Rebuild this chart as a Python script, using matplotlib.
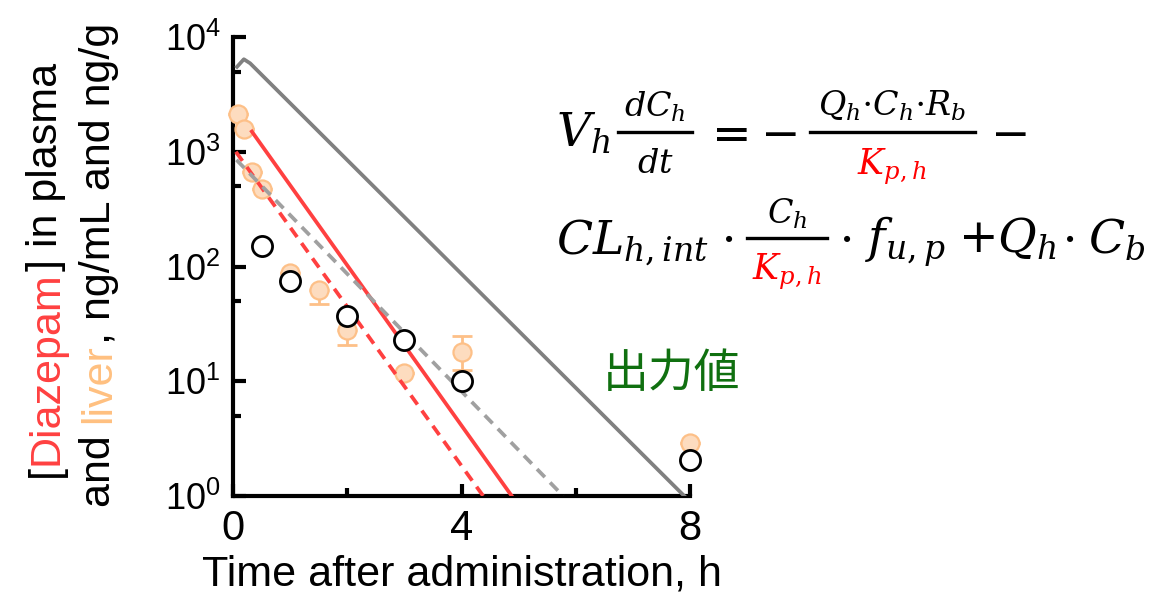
import numpy as np
import matplotlib
matplotlib.use('Agg')
import matplotlib.pyplot as plt
from matplotlib.lines import Line2D
from matplotlib.ticker import FixedLocator, FuncFormatter

plt.rcParams['font.family'] = ['Liberation Sans', 'DejaVu Sans']
plt.rcParams['mathtext.fontset'] = 'dejavuserif'

W, H = 1163, 601

# observed data
liver_t = [0.083, 0.2, 0.33, 0.5, 1, 1.5, 2, 3, 4, 8]
liver_c = [2150, 1580, 670, 470, 88, 62, 28, 11.8, 18, 2.9]
liver_lo = [0, 0, 0, 0, 0, 15, 7.5, 0, 5.5, 0]
liver_hi = [0, 0, 0, 0, 0, 0, 0, 0, 6.6, 0]

plasma_t = [0.5, 1, 2, 3, 4, 8]
plasma_c = [150, 75, 37, 23, 10, 2.05]

# simulated curves
gray_t = [0.07, 0.19, 0.3, 7.9]
gray_c = [5500, 6400, 5900, 1.0]
red_t = [0.33, 4.88]
red_c = [1500, 1.0]
redd_t = [0.05, 4.38]
redd_c = [1000, 1.0]
grayd_t = [0.06, 5.78]
grayd_c = [850, 1.0]

y_major = [1, 10, 100, 1000, 10000]
y_minor = [5, 50, 500, 5000]
x_major = [0, 4, 8]
x_minor = [2, 6]


def fx(px):
    return px / W


def fy(py):
    return 1 - py / H


fig = plt.figure(figsize=(W / 100, H / 100), dpi=100)
ax = fig.add_axes([fx(233), fy(496), fx(690) - fx(233), fy(37) - fy(496)])

eb = ax.errorbar(liver_t, liver_c, yerr=[liver_lo, liver_hi], fmt='none',
                 ecolor='#FDC088', elinewidth=2, capsize=7, capthick=2, zorder=2)
for a in eb.lines[1] + eb.lines[2]:
    a.set_clip_on(False)
ax.plot(liver_t, liver_c, 'o', ms=13, mfc='#FDDCBF', mec='#FDC088', mew=1.6,
        zorder=3, clip_on=False)

ax.plot(gray_t, gray_c, '-', color='#808080', lw=2.7, zorder=4)
ax.plot(red_t, red_c, '-', color='#FF4040', lw=2.7, zorder=4)
ax.plot(redd_t, redd_c, '--', color='#FF4040', lw=2.7, dashes=(3, 2), zorder=4)
ax.plot(grayd_t, grayd_c, '--', color='#A0A0A0', lw=2.7, dashes=(3, 2), zorder=4)

ax.plot(plasma_t, plasma_c, 'o', ms=14.5, mfc='white', mec='black', mew=2,
        zorder=5, clip_on=False)

ax.set_yscale('log')
ax.set_ylim(1, 1e4)
ax.set_xlim(0, 8)
ax.yaxis.set_major_locator(FixedLocator(y_major))
ax.yaxis.set_minor_locator(FixedLocator(y_minor))
ax.yaxis.set_major_formatter(FuncFormatter(lambda v, p: r'$\mathregular{10^{%d}}$' % round(np.log10(v))))
ax.yaxis.set_minor_formatter(FuncFormatter(lambda v, p: ''))
ax.xaxis.set_major_locator(FixedLocator(x_major))
ax.xaxis.set_minor_locator(FixedLocator(x_minor))

for s in ['top', 'right']:
    ax.spines[s].set_visible(False)
for s in ['left', 'bottom']:
    ax.spines[s].set_linewidth(3)

ax.tick_params(which='major', direction='in', length=9, width=3)
ax.tick_params(which='minor', direction='in', length=5.5, width=3)
ax.tick_params(axis='y', which='major', labelsize=26, pad=9)
ax.tick_params(axis='x', which='major', labelsize=30, pad=9)

ax.set_xlabel('Time after administration, h', fontsize=31, labelpad=4)

# y label, two lines with coloured words
def vtext(xc, ybot, pieces, size):
    t = fig.text(fx(xc), fy(ybot), pieces[0][0], color=pieces[0][1], rotation=90,
                 va='bottom', ha='center', fontsize=size)
    for s, c in pieces[1:]:
        t = ax.annotate(s, xy=(0, 1), xycoords=t, va='bottom', ha='left', rotation=90,
                        color=c, fontsize=size, annotation_clip=False)


vtext(46, 477, [('[', 'black'), ('Diazepam', '#FF4040'), ('] in plasma', 'black')], 31)
vtext(99, 507, [('and ', 'black'), ('liver', '#FFC080'), (', ng/mL and ng/g', 'black')], 31)

fig.text(fx(603), fy(374), '出力値', fontsize=33, color='#107010', va='center', ha='left',
         family=['Noto Sans CJK JP', 'DejaVu Sans'])

# equation pieces
def eq(x, y, s, size, ha='left', color='black'):
    fig.text(fx(x), fy(y), s, fontsize=size, ha=ha, va='baseline', color=color)


def bar(x0, x1, y):
    fig.add_artist(Line2D([fx(x0), fx(x1)], [fy(y), fy(y)], color='black', lw=2.4,
                          transform=fig.transFigure))


M, F, K = 34, 24, 25
eq(556, 147, r'$V_h$', M)
eq(655, 117, r'$dC_h$', F, 'center')
bar(618, 692, 132)
eq(655, 173, r'$dt$', F, 'center')
eq(703, 147, r'$=$', M)
eq(760, 147, r'$-$', M)
eq(892, 116, r'$Q_h{\cdot}C_h{\cdot}R_b$', F, 'center')
bar(810, 975, 132)
eq(892, 174, r'$K_{p,h}$', K, 'center', 'red')
eq(990, 147, r'$-$', M)

eq(556, 253, r'$CL_{h,int}$', M)
eq(727, 253, r'$\cdot$', M, 'center')
eq(787, 224, r'$C_h$', F, 'center')
bar(747, 827, 238)
eq(787, 279, r'$K_{p,h}$', K, 'center', 'red')
eq(845, 253, r'$\cdot$', M, 'center')
eq(865, 253, r'$f_{u,p}$', M)
eq(958, 253, r'$+Q_h$', M)
eq(1068, 253, r'$\cdot$', M, 'center')
eq(1088, 253, r'$C_b$', M)

fig.savefig('out.png', dpi=100)
